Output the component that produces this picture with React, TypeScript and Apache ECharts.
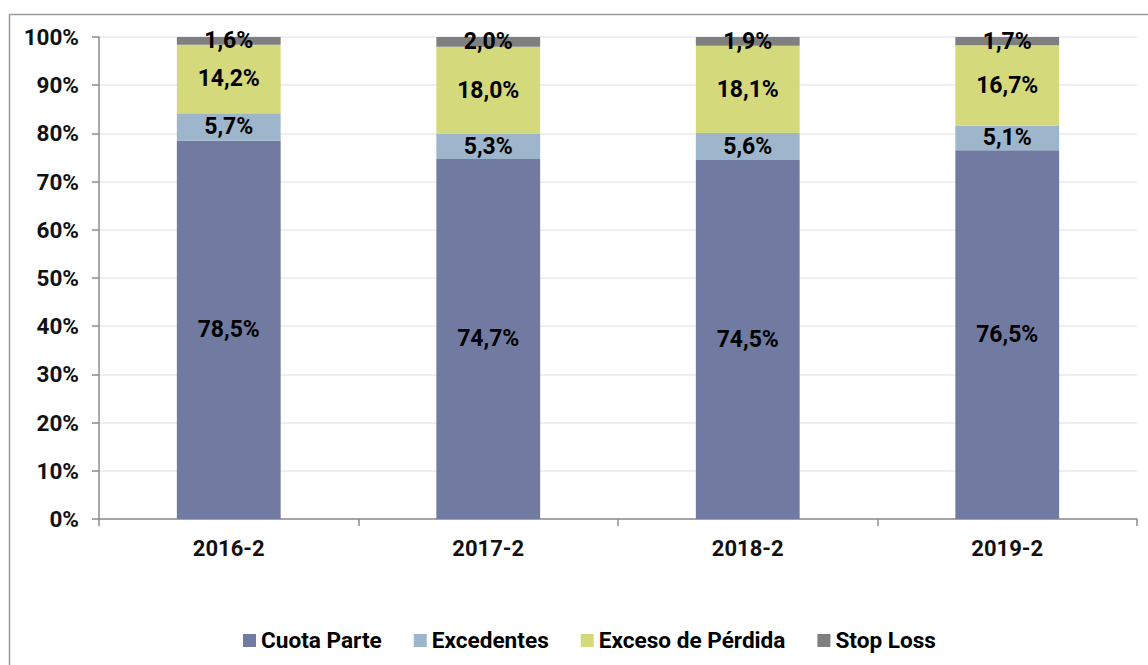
import React, { useEffect, useRef } from "react";
import * as echarts from "echarts";

const categories = ["2016-2", "2017-2", "2018-2", "2019-2"];
const cuotaParte = [78.5, 74.7, 74.5, 76.5];
const excedentes = [5.7, 5.3, 5.6, 5.1];
const excesoPerdida = [14.2, 18.0, 18.1, 16.7];
const stopLoss = [1.6, 2.0, 1.9, 1.7];
const seriesNames = ["Cuota Parte", "Excedentes", "Exceso de Pérdida", "Stop Loss"];
const colors = ["#717BA1", "#9EB6CC", "#D4DA7B", "#7F7F7F"];

const FONT = "Roboto";

export default function App() {
  const ref = useRef<HTMLDivElement>(null);
  useEffect(() => {
    if (!ref.current) return;
    const chart = echarts.init(ref.current, undefined, { renderer: "svg" });
    const dataSets = [cuotaParte, excedentes, excesoPerdida, stopLoss];
    chart.setOption({
      animation: false,
      textStyle: { fontFamily: FONT },
      graphic: [
        {
          type: "rect",
          shape: { x: 9.5, y: 14.5, width: 1200, height: 700 },
          style: { fill: "none", stroke: "#9a9a9a", lineWidth: 1.5 },
          silent: true,
          z: -10,
        },
      ],
      grid: { left: 99, right: 11, top: 37, bottom: 146, containLabel: false },
      legend: {
        bottom: 8,
        left: 238,
        itemWidth: 13,
        itemHeight: 13,
        itemGap: 32,
        icon: "rect",
        textStyle: { fontFamily: FONT, fontWeight: "bold", fontSize: 22.6, color: "#000" },
        data: seriesNames,
      },
      xAxis: {
        type: "category",
        data: categories,
        axisLine: { lineStyle: { color: "#8c8c8c", width: 1.5 } },
        axisTick: { show: true, length: 7, lineStyle: { color: "#8c8c8c", width: 1.5 } },
        axisLabel: { fontFamily: FONT, fontWeight: "bold", fontSize: 22, color: "#111", margin: 18 },
      },
      yAxis: {
        type: "value",
        min: 0,
        max: 100,
        interval: 10,
        axisLine: { show: true, lineStyle: { color: "#8c8c8c", width: 1.5 } },
        axisTick: { show: true, length: 7, lineStyle: { color: "#8c8c8c", width: 1.5 } },
        splitLine: { lineStyle: { color: "#e8e8f0", width: 1.5 } },
        axisLabel: {
          fontFamily: FONT,
          fontWeight: "bold",
          fontSize: 22.5,
          color: "#111",
          margin: 20,
          formatter: (v: number) => `${v}%`,
        },
      },
      series: seriesNames.map((name, i) => ({
        name,
        type: "bar",
        stack: "total",
        barWidth: "40%",
        itemStyle: { color: colors[i] },
        data: dataSets[i],
        label: {
          show: true,
          position: "inside",
          fontFamily: FONT,
          fontWeight: "bold",
          fontSize: 23,
          color: "#000",
          formatter: (p: any) => `${p.value.toFixed(1).replace(".", ",")}%`,
        },
      })),
    });
    return () => chart.dispose();
  }, []);
  return (
    <div
      ref={ref}
      style={{ position: "fixed", left: 0, top: 0, width: 1148, height: 665, background: "#fff" }}
    />
  );
}
